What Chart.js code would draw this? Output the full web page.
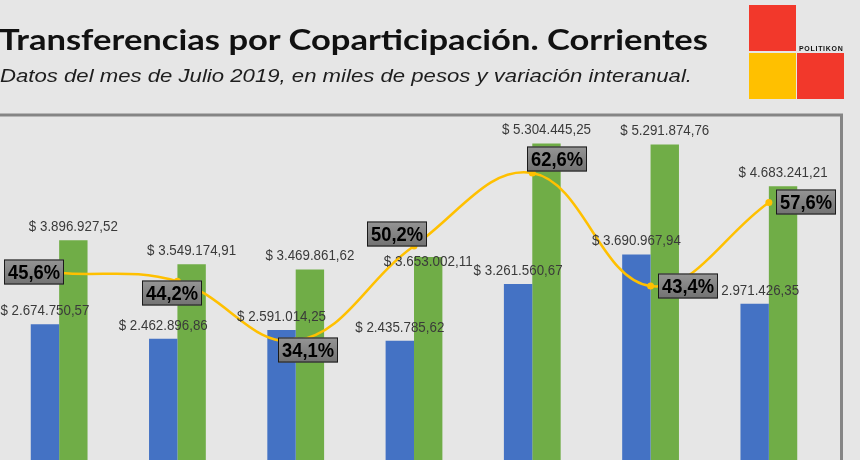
<!DOCTYPE html>
<html><head><meta charset="utf-8">
<script src="https://cdn.jsdelivr.net/npm/chart.js@4.4.1/dist/chart.umd.min.js"></script>
<style>
html,body{margin:0;padding:0;width:860px;height:460px;overflow:hidden;background:#e6e6e6;}
#wrap{position:absolute;left:0;top:0;width:860px;height:560px;}
#title{position:absolute;left:-1px;top:25px;font-family:Lato,"Open Sans",sans-serif;font-weight:700;font-size:28px;line-height:28px;color:#111;white-space:nowrap;transform-origin:0 0;}
#subtitle{position:absolute;left:0px;top:66px;font-family:"Liberation Sans",Arial,sans-serif;font-style:italic;font-size:19px;line-height:19px;color:#1e1e1e;white-space:nowrap;transform-origin:0 0;}
.sq{position:absolute;width:47px;height:46px;}
#logoText{position:absolute;left:799px;top:45px;font-family:"Liberation Sans",Arial,sans-serif;font-weight:700;font-size:7px;line-height:8px;color:#111;letter-spacing:0.7px;}
</style></head>
<body>
<div id="wrap"><canvas id="c" width="860" height="560"></canvas></div>
<div id="title">Transferencias por Coparticipación. Corrientes</div>
<div id="subtitle">Datos del mes de Julio 2019, en miles de pesos y variación interanual.</div>
<div class="sq" style="left:749px;top:5px;background:#f2382b;"></div>
<div class="sq" style="left:749px;top:53px;background:#ffc000;"></div>
<div class="sq" style="left:797px;top:53px;background:#f2382b;"></div>
<div id="logoText">POLITIKON</div>
<script>
// ---- data ----
const categories = ['Enero', 'Febrero', 'Marzo', 'Abril', 'Mayo', 'Junio', 'Julio'];
const seriesNames = ['2018', '2019', 'Variación interanual'];
const values2018 = [2674750.57, 2462896.86, 2591014.25, 2435785.62, 3261560.67, 3690967.94, 2971426.35];
const values2019 = [3896927.52, 3549174.91, 3469861.62, 3653002.11, 5304445.25, 5291874.76, 4683241.21];
const variation = [45.6, 44.2, 34.1, 50.2, 62.6, 43.4, 57.6];

// ---- fit header texts ----
function fit(id, target){
  const el=document.getElementById(id);
  const w=el.getBoundingClientRect().width;
  el.style.transform='scaleX('+(target/w)+')';
}
fit('title', 709);
fit('subtitle', 692);

function fmtMoney(v){
  const s=v.toFixed(2).split('.');
  const int=s[0].replace(/\B(?=(\d{3})+(?!\d))/g,'.');
  return '$ '+int+','+s[1];
}
function fmtPct(v){ return v.toFixed(1).replace('.',',')+'%'; }

const framePlugin={
  id:'frame',
  beforeDatasetsDraw(chart,args,o){
    const ctx=chart.ctx, a=chart.chartArea;
    ctx.save();
    ctx.strokeStyle=o.color; ctx.lineWidth=o.width;
    ctx.beginPath();
    ctx.moveTo(-5,a.top); ctx.lineTo(a.right+o.rightGap,a.top); ctx.lineTo(a.right+o.rightGap,chart.height+5);
    ctx.stroke();
    ctx.restore();
  }
};

const valueLabels={
  id:'valueLabels',
  afterDatasetsDraw(chart,args,o){
    const ctx=chart.ctx;
    ctx.save();
    ctx.font=o.font; ctx.fillStyle=o.color; ctx.textAlign='center'; ctx.textBaseline='middle';
    [0,1].forEach(di=>{
      const meta=chart.getDatasetMeta(di);
      meta.data.forEach((bar,i)=>{
        const txt=fmtMoney(chart.data.datasets[di].data[i]);
        const extra=(o.shift[di]&&o.shift[di][i])||0;
        const w=ctx.measureText(txt).width;
        ctx.save();
        ctx.translate(bar.x, bar.y-o.gap+extra);
        ctx.scale(o.textWidth/w,1);
        ctx.fillText(txt,0,0);
        ctx.restore();
      });
    });
    ctx.restore();
  }
};

const pctLabels={
  id:'pctLabels',
  afterDatasetsDraw(chart,args,o){
    const ctx=chart.ctx;
    const meta=chart.getDatasetMeta(2);
    ctx.save();
    meta.data.forEach((pt,i)=>{
      const off=o.offsets[i];
      const cx=Math.round(pt.x+off[0]), cy=Math.round(pt.y+off[1]);
      const x0=cx-o.boxW/2, y0=cy-o.boxH/2;
      const g=ctx.createLinearGradient(0,y0,0,y0+o.boxH);
      g.addColorStop(0,'#959595'); g.addColorStop(1,'#727272');
      ctx.fillStyle=g;
      ctx.fillRect(x0,y0,o.boxW,o.boxH);
      ctx.strokeStyle='#1a1a1a'; ctx.lineWidth=1;
      ctx.strokeRect(x0+0.5,y0+0.5,o.boxW-1,o.boxH-1);
      const txt=fmtPct(chart.data.datasets[2].data[i]);
      ctx.font=o.font; ctx.fillStyle='#000'; ctx.textAlign='center'; ctx.textBaseline='middle';
      const w=ctx.measureText(txt).width;
      ctx.save(); ctx.translate(cx,cy+1); ctx.scale(o.textWidth/w,1); ctx.fillText(txt,0,0); ctx.restore();
    });
    ctx.restore();
  }
};

new Chart(document.getElementById('c'),{
  data:{
    labels:categories,
    datasets:[
      {type:'bar',label:seriesNames[0],data:values2018,backgroundColor:'#4472c4',yAxisID:'y',order:2,categoryPercentage:0.48,barPercentage:1.0},
      {type:'bar',label:seriesNames[1],data:values2019,backgroundColor:'#70ad47',yAxisID:'y',order:2,categoryPercentage:0.48,barPercentage:1.0},
      {type:'line',label:seriesNames[2],data:variation,yAxisID:'y2',order:0,borderColor:'#ffc000',borderWidth:2.5,tension:0.4,
       pointRadius:3.5,pointBackgroundColor:'#ffc000',pointBorderWidth:0}
    ]
  },
  options:{
    responsive:false,animation:false,devicePixelRatio:1,
    layout:{autoPadding:false,padding:{left:0,right:32,top:115,bottom:52}},
    scales:{
      x:{type:'category',display:false,offset:true,grid:{display:false}},
      y:{display:false,min:0,max:5720000},
      y2:{display:false,min:5.7,max:72.46}
    },
    plugins:{
      legend:{display:false},tooltip:{enabled:false},title:{display:false},
      frame:{color:'#858585',width:3,rightGap:13.5},
      valueLabels:{font:'14px "Liberation Sans", Arial, sans-serif',color:'#3a3a3a',gap:13,textWidth:89,shift:[[],[0,0,0,18,0,0,0]]},
      pctLabels:{font:'bold 20px "Liberation Sans", Arial, sans-serif',boxW:60,boxH:25,textWidth:52,
        offsets:[[-25,-1],[-5,12],[12,9],[-17,-12],[25,-14],[37,0],[37,0]]}
    }
  },
  plugins:[framePlugin,valueLabels,pctLabels]
});
</script>
</body></html>
